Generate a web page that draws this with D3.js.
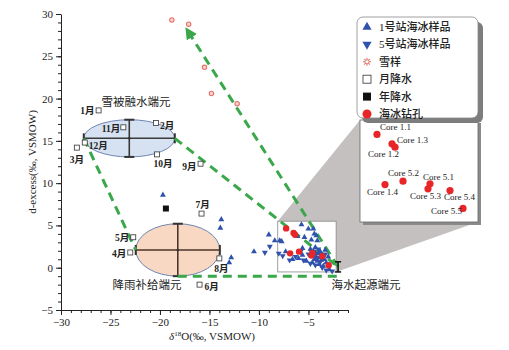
<!DOCTYPE html>
<html>
<head>
<meta charset="utf-8">
<script src="https://cdn.jsdelivr.net/npm/d3@7"></script>
<style>
  body { margin: 0; background: #fff; }
  svg { display: block; }
  text { font-family: "Liberation Serif", "Noto Sans CJK SC", serif; fill: #222; }
</style>
</head>
<body>
<svg id="chart" width="509" height="350"></svg>
<script>
// ---- data ----
const station1 = [
  [-19.7, 8.6], [-13.8, 5.7], [-13.9, 4.7], [-12.8, 1.2], [-13.0, 0.6], [-10.5, 1.9],
  [-9.0, 3.9], [-8.4, 3.2], [-7.9, 3.2], [-7.7, 3.1], [-5.7, 5.1], [-5.0, 4.6],
  [-4.5, 4.6], [-6.1, 3.7], [-4.4, 4.0], [-4.2, 3.8], [-5.4, 3.6], [-4.7, 3.3],
  [-4.1, 3.2], [-5.6, 2.3], [-7.3, 1.9], [-6.6, 1.0], [-5.6, 1.5], [-6.0, 1.1],
  [-4.8, 2.2], [-4.5, 2.0], [-4.3, 1.8], [-4.0, 1.7], [-3.8, 1.9], [-4.6, 1.4],
  [-4.2, 1.3], [-3.9, 1.2], [-3.6, 1.5], [-4.4, 1.0], [-4.1, 0.8], [-3.7, 0.9],
  [-3.4, 1.0], [-4.6, 0.6], [-3.9, 0.4], [-3.2, 0.6], [-3.5, 0.2], [-2.9, -0.2],
  [-4.3, 2.4], [-3.3, 2.1], [-5.2, 0.8], [-3.0, 1.3]
];
const station5 = [
  [-9.4, 1.8], [-8.9, 2.5], [-8.0, 1.7], [-7.6, 1.4], [-6.9, 0.9], [-6.3, 1.3],
  [-5.5, 0.9], [-5.0, 1.6], [-4.7, 1.9], [-4.4, 1.5], [-4.1, 1.1], [-3.8, 0.7],
  [-4.3, 0.3], [-3.6, 0.0], [-3.2, -0.3], [-4.8, 0.5], [-5.8, 1.9], [-4.0, 2.2],
  [-3.3, 1.6], [-2.6, -0.4]
];
const snowSamples = [[-18.8, 29.3], [-17.1, 28.8], [-15.5, 23.7], [-14.8, 20.6], [-12.2, 19.4]];
const monthNames = ["1月", "2月", "3月", "4月", "5月", "6月", "7月", "8月", "9月", "10月", "11月", "12月"];
const monthPrecip = [
  [-26.2, 18.6], [-20.4, 17.1], [-28.4, 14.2], [-23.0, 1.8], [-22.7, 3.6], [-16.0, -2.0],
  [-15.8, 6.4], [-14.0, 1.1], [-15.9, 12.3], [-20.3, 13.4], [-23.7, 16.6], [-27.6, 14.8]
];
const annualPrecip = [[-19.4, 7.0]];
const coreNames = ["Core 1.1", "Core 1.2", "Core 1.3", "Core 1.4", "Core 5.1", "Core 5.2", "Core 5.3", "Core 5.4", "Core 5.5"];
const coreValues = [
  [-7.25, 4.65], [-6.35, 3.9], [-6.5, 4.1], [-6.85, 1.7], [-4.6, 1.75],
  [-5.95, 1.9], [-4.7, 1.45], [-3.6, 1.35], [-2.95, 0.3]
];
const endmemberNames = ["雪被融水端元", "降雨补给端元", "海水起源端元"];
const endmemberMean = [[-23.1, 15.3], [-18.2, 2.1], [-2.0, 0.1]];
const endmemberSd = [[4.6, 2.2], [4.25, 3.1], [0.05, 0.6]];
const arrowTip = [-17.3, 28.2];
const zoomBoxX = [-8.1, -2.2];
const zoomBoxY = [-0.5, 5.5];
const xTicks = [-30, -25, -20, -15, -10, -5];
const yTicks = [-5, 0, 5, 10, 15, 20, 25, 30];
const legendLabels = ["1号站海冰样品", "5号站海冰样品", "雪样", "月降水", "年降水", "海冰钻孔"];

// ---- layout ----
const BLUE = "#2f52ad", RED = "#e8262a", GREEN = "#3aa84a", SNOW = "#e3736a";
const svg = d3.select("#chart");

const x = d3.scaleLinear().domain([-30, -1]).range([61, 348]);
const y = d3.scaleLinear().domain([-5, 30]).range([310, 14]);

// month label offsets (px) and anchors
const monthLabelPos = {
  "1月": [-4, 0, "end"], "2月": [4, 2, "start"], "3月": [0, 12, "middle"], "4月": [-4, 1, "end"],
  "5月": [-4, 0, "end"], "6月": [5, 2, "start"], "7月": [1, -9, "middle"], "8月": [2, 10, "middle"],
  "9月": [-4, 3, "end"], "10月": [6, 9, "middle"], "11月": [-3, 1, "end"], "12月": [4, 3, "start"]
};
const coreLabelPos = {
  "Core 1.1": [3, -7], "Core 1.2": [-27, 7], "Core 1.3": [5, -4], "Core 1.4": [-18, 7],
  "Core 5.1": [-7, -7], "Core 5.2": [-15, -8], "Core 5.3": [-18, 7], "Core 5.4": [-6, 6], "Core 5.5": [-32, 3]
};

// ---- inset connector (gray wedge) ----
const inset = {x0: 360, x1: 478, y0: 120, y1: 222};
const ix = d3.scaleLinear().domain(zoomBoxX).range([inset.x0, inset.x1]);
const iy = d3.scaleLinear().domain(zoomBoxY).range([inset.y1, inset.y0]);

svg.append("polygon")
  .attr("points", [
    [x(zoomBoxX[0]), y(zoomBoxY[1])], [inset.x0, inset.y0],
    [inset.x1, inset.y1], [x(zoomBoxX[1]), y(zoomBoxY[0])]
  ].map(p => p.join(",")).join(" "))
  .attr("fill", "#c4c0c0");

svg.append("rect")
  .attr("x", x(zoomBoxX[0])).attr("y", y(zoomBoxY[1]))
  .attr("width", x(zoomBoxX[1]) - x(zoomBoxX[0]))
  .attr("height", y(zoomBoxY[0]) - y(zoomBoxY[1]))
  .attr("fill", "#fff").attr("stroke", "#888").attr("stroke-width", 0.8);

// ---- axes ----
svg.append("g").attr("transform", `translate(0,${y(-5)})`)
  .call(d3.axisBottom(x).tickValues(xTicks).tickSize(5).tickSizeOuter(0));
svg.append("g").attr("transform", `translate(0,${y(-5)})`)
  .call(d3.axisBottom(x).tickValues(d3.range(-30, -0.5, 1)).tickSize(3).tickFormat("").tickSizeOuter(0))
  .select(".domain").remove();
svg.append("g").attr("transform", `translate(${x(-30)},0)`)
  .call(d3.axisLeft(y).tickValues(yTicks).tickSize(5).tickSizeOuter(0));
svg.append("g").attr("transform", `translate(${x(-30)},0)`)
  .call(d3.axisLeft(y).tickValues(d3.range(-5, 30.5, 1)).tickSize(3).tickFormat("").tickSizeOuter(0))
  .select(".domain").remove();
svg.selectAll(".tick text").attr("font-size", 11).attr("font-family", "Liberation Serif").attr("fill", "#222");
svg.selectAll(".domain, .tick line").attr("stroke", "#222");

svg.append("text").attr("transform", `translate(36,${(y(-5) + y(30)) / 2}) rotate(-90)`)
  .attr("text-anchor", "middle").attr("font-size", 11).text("d-excess(‰, VSMOW)");
const xt = svg.append("text").attr("x", 212).attr("y", 340).attr("text-anchor", "middle").attr("font-size", 11);
xt.append("tspan").attr("font-style", "italic").text("δ");
xt.append("tspan").attr("font-size", 7).attr("dy", -4).text("18");
xt.append("tspan").attr("dy", 4).text("O(‰, VSMOW)");

// ---- endmember ellipses ----
const ellipseStyle = [
  {fill: "#d6e2f1", bar: "#3a3a3a"},
  {fill: "#f8d8c2", bar: "#4b3428"}
];
endmemberMean.slice(0, 2).forEach((m, i) => {
  const sd = endmemberSd[i], st = ellipseStyle[i];
  const cx = x(m[0]), cy = y(m[1]);
  const rx = x(m[0] + sd[0]) - cx, ry = cy - y(m[1] + sd[1]);
  const g = svg.append("g");
  g.append("ellipse").attr("cx", cx).attr("cy", cy).attr("rx", rx).attr("ry", ry)
    .attr("fill", st.fill).attr("stroke", "#6d86b4").attr("stroke-width", 1);
  g.append("line").attr("x1", cx - rx).attr("x2", cx + rx).attr("y1", cy).attr("y2", cy)
    .attr("stroke", st.bar).attr("stroke-width", 1.4);
  g.append("line").attr("x1", cx).attr("x2", cx).attr("y1", cy - ry).attr("y2", cy + ry)
    .attr("stroke", st.bar).attr("stroke-width", 1.6);
  [-1, 1].forEach(s => {
    g.append("line").attr("x1", cx + s * rx).attr("x2", cx + s * rx).attr("y1", cy - 5).attr("y2", cy + 5)
      .attr("stroke", "#333").attr("stroke-width", 2);
    g.append("line").attr("x1", cx - 5).attr("x2", cx + 5).attr("y1", cy + s * ry).attr("y2", cy + s * ry)
      .attr("stroke", "#333").attr("stroke-width", 2);
  });
  g.append("circle").attr("cx", cx).attr("cy", cy).attr("r", 1.3).attr("fill", "#333");
});

// ---- mixing lines (dashed green) ----
const [snowM, rainM, seaM] = endmemberMean;
const [snowS, rainS] = endmemberSd;
const mixLines = [
  [[snowM[0] - snowS[0], snowM[1]], [rainM[0] - rainS[0], rainM[1]]],
  [[snowM[0] + snowS[0], snowM[1]], seaM],
  [[rainM[0], rainM[1] - rainS[1]], [seaM[0], rainM[1] - rainS[1]]],
  [seaM, arrowTip]
];
svg.append("defs").append("marker").attr("id", "arr")
  .attr("viewBox", "0 0 10 10").attr("refX", 8).attr("refY", 5)
  .attr("markerWidth", 4).attr("markerHeight", 4).attr("orient", "auto")
  .append("path").attr("d", "M0,0 L10,5 L0,10 Z").attr("fill", GREEN);
svg.append("g").selectAll("line").data(mixLines).join("line")
  .attr("x1", d => x(d[0][0])).attr("y1", d => y(d[0][1]))
  .attr("x2", d => x(d[1][0])).attr("y2", d => y(d[1][1]))
  .attr("stroke", GREEN).attr("stroke-width", 3).attr("stroke-dasharray", "9,6")
  .attr("marker-end", (d, i) => i === 3 ? "url(#arr)" : null);

// seawater endmember error bar
const sw = svg.append("g").attr("stroke", "#111").attr("stroke-width", 1.5);
sw.append("line").attr("x1", x(seaM[0])).attr("x2", x(seaM[0]))
  .attr("y1", y(seaM[1] + endmemberSd[2][1])).attr("y2", y(seaM[1] - endmemberSd[2][1]));
[1, -1].forEach(s => sw.append("line").attr("x1", x(seaM[0]) - 3).attr("x2", x(seaM[0]) + 3)
  .attr("y1", y(seaM[1] + s * endmemberSd[2][1])).attr("y2", y(seaM[1] + s * endmemberSd[2][1])));

// ---- points ----
const tri = d3.symbol().type(d3.symbolTriangle).size(15);
svg.append("g").selectAll("path").data(station1).join("path")
  .attr("d", tri).attr("fill", BLUE)
  .attr("transform", d => `translate(${x(d[0])},${y(d[1])})`);
svg.append("g").selectAll("path").data(station5).join("path")
  .attr("d", tri).attr("fill", BLUE)
  .attr("transform", d => `translate(${x(d[0])},${y(d[1])}) rotate(180)`);

svg.append("g").selectAll("circle").data(snowSamples).join("circle")
  .attr("cx", d => x(d[0])).attr("cy", d => y(d[1])).attr("r", 2.2)
  .attr("fill", "#fbd3ce").attr("stroke", SNOW).attr("stroke-width", 1.1);

svg.append("g").selectAll("circle").data(coreValues).join("circle")
  .attr("cx", d => x(d[0])).attr("cy", d => y(d[1])).attr("r", 3.2).attr("fill", RED);

const mp = svg.append("g");
mp.selectAll("rect").data(monthPrecip).join("rect")
  .attr("x", d => x(d[0]) - 2.5).attr("y", d => y(d[1]) - 2.5).attr("width", 5).attr("height", 5)
  .attr("fill", "#fff").attr("stroke", "#333").attr("stroke-width", 0.8);
mp.selectAll("text").data(monthPrecip).join("text")
  .attr("x", (d, i) => x(d[0]) + monthLabelPos[monthNames[i]][0])
  .attr("y", (d, i) => y(d[1]) + monthLabelPos[monthNames[i]][1] + 3.5)
  .attr("text-anchor", (d, i) => monthLabelPos[monthNames[i]][2])
  .attr("font-size", 9.5).attr("font-weight", "bold").text((d, i) => monthNames[i]);

svg.append("g").selectAll("rect").data(annualPrecip).join("rect")
  .attr("x", d => x(d[0]) - 3).attr("y", d => y(d[1]) - 3).attr("width", 6).attr("height", 6).attr("fill", "#111");

// endmember labels
const emLabelPos = [[136, 106], [147, 289], [366, 289]];
svg.append("g").selectAll("text").data(endmemberNames).join("text")
  .attr("x", (d, i) => emLabelPos[i][0]).attr("y", (d, i) => emLabelPos[i][1])
  .attr("text-anchor", "middle").attr("font-size", 11.5).text(d => d);

// ---- inset box ----
svg.append("rect").attr("x", inset.x0 + 3).attr("y", inset.y0 + 3)
  .attr("width", inset.x1 - inset.x0).attr("height", inset.y1 - inset.y0).attr("fill", "#8a8a8a");
svg.append("rect").attr("x", inset.x0).attr("y", inset.y0)
  .attr("width", inset.x1 - inset.x0).attr("height", inset.y1 - inset.y0)
  .attr("fill", "#fff").attr("stroke", "#666").attr("stroke-width", 0.8);
const ig = svg.append("g");
ig.selectAll("circle").data(coreValues).join("circle")
  .attr("cx", d => ix(d[0])).attr("cy", d => iy(d[1])).attr("r", 3.6).attr("fill", RED);
ig.selectAll("text").data(coreValues).join("text")
  .attr("x", (d, i) => ix(d[0]) + coreLabelPos[coreNames[i]][0])
  .attr("y", (d, i) => iy(d[1]) + coreLabelPos[coreNames[i]][1] + 3)
  .attr("font-size", 9).attr("fill", "#333").text((d, i) => coreNames[i]);

// ---- legend ----
const lg = svg.append("g").attr("transform", "translate(357,17)");
lg.append("rect").attr("x", 5).attr("y", 5).attr("width", 121).attr("height", 101).attr("rx", 6).attr("fill", "#7d7d7d");
lg.append("rect").attr("width", 121).attr("height", 101).attr("rx", 6)
  .attr("fill", "#fff").attr("stroke", "#888").attr("stroke-width", 0.8);
const rows = lg.selectAll("g.row").data(legendLabels).join("g").attr("class", "row")
  .attr("transform", (d, i) => `translate(10,${10 + i * 17.4})`);
rows.append("text").attr("x", 12).attr("y", 4).attr("font-size", 11).attr("font-weight", 500).text(d => d);
rows.each(function (d, i) {
  const r = d3.select(this);
  if (i === 0) r.append("path").attr("d", d3.symbol().type(d3.symbolTriangle).size(36)).attr("fill", BLUE);
  if (i === 1) r.append("path").attr("d", d3.symbol().type(d3.symbolTriangle).size(36)).attr("transform", "rotate(180)").attr("fill", BLUE);
  if (i === 2) {
    [0, 45, 90, 135].forEach(a => r.append("line").attr("x1", -4).attr("x2", 4)
      .attr("transform", `rotate(${a})`).attr("stroke", SNOW).attr("stroke-width", 1));
    r.append("circle").attr("r", 2).attr("fill", "#fff").attr("stroke", SNOW).attr("stroke-width", 0.9);
  }
  if (i === 3) r.append("rect").attr("x", -4).attr("y", -4).attr("width", 8).attr("height", 8)
    .attr("fill", "#fff").attr("stroke", "#333").attr("stroke-width", 0.8);
  if (i === 4) r.append("rect").attr("x", -4).attr("y", -4).attr("width", 8).attr("height", 8).attr("fill", "#111");
  if (i === 5) r.append("circle").attr("r", 4.5).attr("fill", RED);
});
</script>
</body>
</html>
